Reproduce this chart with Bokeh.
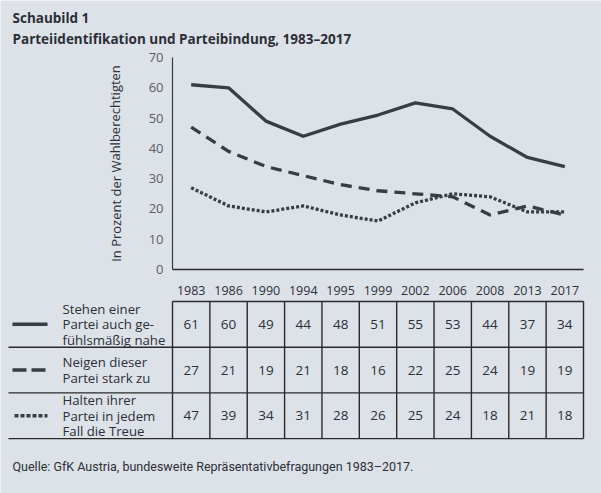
from bokeh.plotting import figure
from bokeh.models import (ColumnDataSource, Range1d, FixedTicker, LinearAxis)
from bokeh.core.properties import value
from bokeh.embed import file_html
from bokeh.resources import INLINE

# ---------------- data ----------------
years = ["1983", "1986", "1990", "1994", "1995", "1999", "2002", "2006", "2008", "2013", "2017"]
nahe = [61, 60, 49, 44, 48, 51, 55, 53, 44, 37, 34]       # Stehen einer Partei auch gefühlsmäßig nahe
stark = [27, 21, 19, 21, 18, 16, 22, 25, 24, 19, 19]      # Neigen dieser Partei stark zu
treue = [47, 39, 34, 31, 28, 26, 25, 24, 18, 21, 18]      # Halten ihrer Partei in jedem Fall die Treue
y_ticks = [0, 10, 20, 30, 40, 50, 60, 70]
row_labels = [["Stehen einer", "Partei auch ge-", "fühlsmäßig nahe"],
              ["Neigen dieser", "Partei stark zu"],
              ["Halten ihrer", "Partei in jedem", "Fall die Treue"]]
title1 = "Schaubild 1"
title2 = "Parteiidentifikation und Parteibindung, 1983–2017"
y_title = "In Prozent der Wahlberechtigten"
source_text = "Quelle: GfK Austria, bundesweite Repräsentativbefragungen 1983–2017."

# ---------------- style / layout ----------------
BG = "#dde2e9"
INK = "#2b2f36"
LINE = "#383d45"
GRID = "#2a2a2a"
FONT = "Open Sans"

W, H = 601, 493
PLOT_L, PLOT_R = 172, 583         # chart / table column area (px)
Y70, Y0 = 57, 269                 # pixel rows of 70 and 0
TAB_TOP, ROWH = 301, 45.7         # table top line, row height (px)
LINE_GAP = 15.5 / ROWH            # text line spacing in row units
n = len(years)
COLW = (PLOT_R - PLOT_L) / n
PXU = (Y0 - Y70) / 70.0

p = figure(width=W, height=H,
           x_range=Range1d(-PLOT_L / COLW, (W - PLOT_L) / COLW),
           y_range=Range1d(-(H - Y0) / PXU, 70 + Y70 / PXU),
           output_backend="svg", toolbar_location=None, min_border=0,
           x_axis_location=None, y_axis_location=None,
           background_fill_color=BG, border_fill_color=BG, outline_line_color=None)
p.grid.visible = False
p.extra_y_ranges = {"tab": Range1d((H - TAB_TOP) / ROWH, -TAB_TOP / ROWH)}

# ---------------- axes (fixed inside the frame) ----------------
xpos = [i + 0.5 for i in range(n)]
xaxis = LinearAxis(fixed_location=0, bounds=(0, n),
                   ticker=FixedTicker(ticks=xpos),
                   major_label_overrides={x: y for x, y in zip(xpos, years)},
                   major_tick_out=0, major_tick_in=0, minor_tick_line_color=None,
                   axis_line_color=GRID, axis_line_width=1.4,
                   major_label_text_font=FONT, major_label_text_font_size="12.5px",
                   major_label_text_color=INK, major_label_standoff=16)
p.add_layout(xaxis, "below")

yaxis = LinearAxis(fixed_location=0, bounds=(0, 70),
                   ticker=FixedTicker(ticks=y_ticks),
                   major_tick_out=0, major_tick_in=0, minor_tick_line_color=None,
                   axis_line_color="#3a3a3a", axis_line_width=1.2,
                   major_label_text_font=FONT, major_label_text_font_size="13px",
                   major_label_text_color="#5a5d62", major_label_standoff=9)
p.add_layout(yaxis, "left")

# ---------------- lines ----------------
src = ColumnDataSource(dict(x=xpos, nahe=nahe, stark=stark, treue=treue))
p.line("x", "nahe", source=src, line_color=LINE, line_width=3.3, line_join="round")
p.line("x", "treue", source=src, line_color=LINE, line_width=3.3, line_dash="11 7")
p.line("x", "stark", source=src, line_color=LINE, line_width=3.3, line_dash="3 2")

# y-axis title (rotated)
p.text(x=[(115 - PLOT_L) / COLW], y=[35], text=[y_title], angle=1.5708,
       text_align="center", text_baseline="middle",
       text_font=value(FONT), text_font_size="13px", text_color=INK)

# ---------------- table ----------------
X_LEFT = (8 - PLOT_L) / COLW
p.segment(x0=list(range(n + 1)), y0=[0] * (n + 1), x1=list(range(n + 1)), y1=[3] * (n + 1),
          line_color=GRID, line_width=1.4, y_range_name="tab")
p.segment(x0=[0, X_LEFT, X_LEFT, X_LEFT], y0=[0, 1, 2, 3], x1=[n] * 4, y1=[0, 1, 2, 3],
          line_color=GRID, line_width=1.4, y_range_name="tab")

cx, cy, ct = [], [], []
for r, series in enumerate([nahe, stark, treue]):
    for i, v in enumerate(series):
        cx.append(i + 0.5)
        cy.append(r + 0.5)
        ct.append(str(v))
p.text(x=cx, y=cy, text=ct, text_align="center", text_baseline="middle", y_range_name="tab",
       text_font=value(FONT), text_font_size="13.5px", text_color=INK)

lx = (62 - PLOT_L) / COLW
lt, ly = [], []
for r, lines in enumerate(row_labels):
    k = len(lines)
    for j, s in enumerate(lines):
        lt.append(s)
        ly.append(r + 0.5 + (j - (k - 1) / 2.0) * LINE_GAP)
p.text(x=[lx] * len(lt), y=ly, text=lt, text_align="left", text_baseline="middle",
       y_range_name="tab", text_font=value(FONT), text_font_size="13.2px", text_color=INK)

# legend swatches (as printed in the table)
sx0 = (12 - PLOT_L) / COLW
sx1 = (47 - PLOT_L) / COLW
p.line(x=[sx0, sx1], y=[0.5, 0.5], line_color=LINE, line_width=3.5, y_range_name="tab")
p.line(x=[sx0, sx1], y=[1.5, 1.5], line_color=LINE, line_width=3.5, line_dash="14 5",
       y_range_name="tab")
p.line(x=[sx0 + 2 / COLW, sx1], y=[2.5, 2.5], line_color=LINE, line_width=3.5, line_dash="4 2",
       y_range_name="tab")

# ---------------- titles and source ----------------
p.text(x=[sx0, sx0], y=[(17 - TAB_TOP) / ROWH, (38 - TAB_TOP) / ROWH], text=[title1, title2],
       text_align="left", text_baseline="middle", y_range_name="tab",
       text_font=value(FONT), text_font_size="13.5px", text_font_style="bold", text_color=INK)
p.text(x=[sx0], y=[(466 - TAB_TOP) / ROWH], text=[source_text], text_align="left",
       text_baseline="middle", y_range_name="tab",
       text_font=value("Roboto"), text_font_size="12.5px", text_color=INK)

open("out.html", "w").write(file_html(p, INLINE))
